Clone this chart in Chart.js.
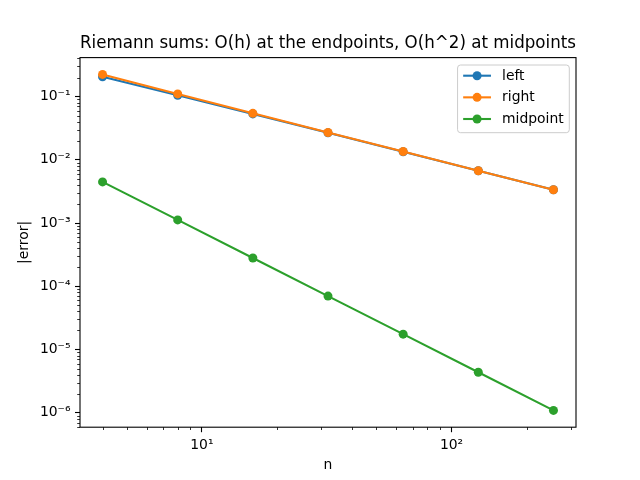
<!DOCTYPE html>
<html>
<head>
<meta charset="utf-8">
<script src="https://cdn.jsdelivr.net/npm/chart.js@4.4.1/dist/chart.umd.min.js"></script>
<style>
  html, body { margin: 0; padding: 0; background: #fff; }
</style>
</head>
<body>
<canvas id="chart" width="640" height="480"></canvas>
<script>
// number of subintervals and absolute errors
const nValues = [4, 8, 16, 32, 64, 128, 256];
const leftErr = [0.206, 0.105, 0.0531, 0.0267, 0.0134, 0.0067, 0.00336];
const rightErr = [0.224, 0.110, 0.0543, 0.0270, 0.0135, 0.00672, 0.00336];
const midErr = [0.00447, 0.00112, 0.00028, 7.0e-5, 1.75e-5, 4.37e-6, 1.09e-6];

const xTicks = [10, 100];
const yTicks = [1e-6, 1e-5, 1e-4, 1e-3, 1e-2, 1e-1];

const FONT = 'DejaVu Sans';
const SUP = { '-': '\u207B', '0': '\u2070', '1': '\u00B9', '2': '\u00B2', '3': '\u00B3',
              '4': '\u2074', '5': '\u2075', '6': '\u2076', '7': '\u2077', '8': '\u2078', '9': '\u2079' };

function powLabel(v) {
    const e = String(Math.round(Math.log10(v)));
    return '10' + e.split('').map(c => SUP[c]).join('');
}

// matplotlib-like 5% margin in log space
function logLimits(values) {
    const lo = Math.log10(Math.min(...values));
    const hi = Math.log10(Math.max(...values));
    const m = (hi - lo) * 0.05;
    return [Math.pow(10, lo - m), Math.pow(10, hi + m)];
}

const [xMin, xMax] = logLimits(nValues);
const [yMin, yMax] = logLimits([...leftErr, ...rightErr, ...midErr]);

const series = [
    { label: 'left', data: leftErr, color: '#1f77b4', order: 3 },
    { label: 'right', data: rightErr, color: '#ff7f0e', order: 2 },
    { label: 'midpoint', data: midErr, color: '#2ca02c', order: 1 }
];

const frame = {
    id: 'frame',
    beforeDraw(chart) {
        const ctx = chart.ctx;
        ctx.save();
        ctx.fillStyle = '#fff';
        ctx.fillRect(0, 0, chart.width, chart.height);
        ctx.restore();
    },
    afterDatasetsDraw(chart) {
        const { ctx, chartArea: a, scales: { x, y } } = chart;
        ctx.save();
        ctx.strokeStyle = '#000';

        // minor ticks
        ctx.lineWidth = 0.8;
        ctx.beginPath();
        for (let d = 1; d <= 1000; d *= 10) {
            for (let k = 2; k <= 9; k++) {
                const v = k * d;
                if (v < xMin || v > xMax) continue;
                const px = Math.round(x.getPixelForValue(v)) + 0.5;
                ctx.moveTo(px, a.bottom);
                ctx.lineTo(px, a.bottom + 2.8);
            }
        }
        for (let e = -8; e <= 1; e++) {
            for (let k = 2; k <= 9; k++) {
                const v = k * Math.pow(10, e);
                if (v < yMin || v > yMax) continue;
                const py = Math.round(y.getPixelForValue(v)) + 0.5;
                ctx.moveTo(a.left, py);
                ctx.lineTo(a.left - 2.8, py);
            }
        }
        ctx.stroke();

        // axes box
        ctx.lineWidth = 1.1;
        ctx.strokeRect(a.left, a.top, a.right - a.left, a.bottom - a.top);

        // legend
        ctx.font = '13.9px "' + FONT + '"';
        const textW = Math.max(...series.map(s => ctx.measureText(s.label).width));
        const w = 5.6 + 27.8 + 11.1 + textW + 5.6;
        const h = 67.7;
        const bx = a.right - 6.7 - w;
        const by = a.top + 7.4;
        ctx.beginPath();
        ctx.roundRect(bx, by, w, h, 3);
        ctx.fillStyle = 'rgba(255,255,255,0.8)';
        ctx.fill();
        ctx.strokeStyle = '#cccccc';
        ctx.lineWidth = 1;
        ctx.stroke();

        series.forEach((s, i) => {
            const cy = by + 10.7 + i * 21.65;
            const x0 = bx + 5.6;
            ctx.strokeStyle = s.color;
            ctx.lineWidth = 2.1;
            ctx.beginPath();
            ctx.moveTo(x0, cy);
            ctx.lineTo(x0 + 27.8, cy);
            ctx.stroke();
            ctx.fillStyle = s.color;
            ctx.beginPath();
            ctx.arc(x0 + 13.9, cy, 4.5, 0, Math.PI * 2);
            ctx.fill();
            ctx.fillStyle = '#000';
            ctx.textBaseline = 'middle';
            ctx.textAlign = 'left';
            ctx.fillText(s.label, x0 + 27.8 + 11.1, cy + 0.5);
        });
        ctx.restore();
    }
};

new Chart(document.getElementById('chart'), {
    type: 'line',
    data: {
        datasets: series.map(s => ({
            label: s.label,
            data: nValues.map((n, i) => ({ x: n, y: s.data[i] })),
            borderColor: s.color,
            backgroundColor: s.color,
            pointBackgroundColor: s.color,
            borderWidth: 2.1,
            pointRadius: 4.5,
            pointBorderWidth: 0,
            pointHoverRadius: 4.5,
            tension: 0,
            order: s.order
        }))
    },
    options: {
        responsive: false,
        animation: false,
        devicePixelRatio: 1,
        layout: { padding: { top: 0, right: 64, bottom: 0, left: 0 } },
        plugins: {
            legend: { display: false },
            tooltip: { enabled: false },
            title: {
                display: true,
                text: 'Riemann sums: O(h) at the endpoints, O(h^2) at midpoints',
                color: '#000',
                fullSize: false,
                font: { family: FONT, size: 17, weight: 'normal' },
                padding: { top: 33.6, bottom: 3.6 }
            }
        },
        scales: {
            x: {
                type: 'logarithmic',
                min: xMin,
                max: xMax,
                afterBuildTicks: scale => { scale.ticks = xTicks.map(v => ({ value: v, major: true })); },
                afterFit: scale => { scale.height = 52.8; },
                grid: { drawOnChartArea: false, drawTicks: true, tickLength: 5, tickColor: '#000', tickWidth: 1.1 },
                border: { display: false },
                ticks: {
                    color: '#000',
                    padding: 4.5,
                    maxRotation: 0,
                    autoSkip: false,
                    font: { family: FONT, size: 13.9 },
                    callback: v => powLabel(v)
                },
                title: {
                    display: true,
                    text: 'n',
                    color: '#000',
                    font: { family: FONT, size: 13.9 },
                    padding: { top: 0, bottom: 6.7 }
                }
            },
            y: {
                type: 'logarithmic',
                min: yMin,
                max: yMax,
                afterBuildTicks: scale => { scale.ticks = yTicks.map(v => ({ value: v, major: true })); },
                afterFit: scale => { scale.width = 80; },
                grid: { drawOnChartArea: false, drawTicks: true, tickLength: 5, tickColor: '#000', tickWidth: 1.1 },
                border: { display: false },
                ticks: {
                    color: '#000',
                    padding: 4.5,
                    autoSkip: false,
                    font: { family: FONT, size: 13.9 },
                    callback: v => powLabel(v)
                },
                title: {
                    display: true,
                    text: '|error|',
                    color: '#000',
                    font: { family: FONT, size: 13.9 },
                    padding: { top: 16, bottom: 0 }
                }
            }
        }
    },
    plugins: [frame]
});
</script>
</body>
</html>
